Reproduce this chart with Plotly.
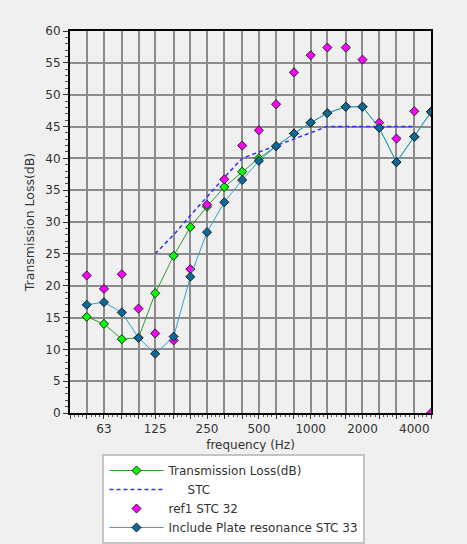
import plotly.graph_objects as go

freqs = [50, 63, 80, 100, 125, 160, 200, 250, 315, 400, 500, 630, 800,
         1000, 1250, 1600, 2000, 2500, 3150, 4000, 5000]
tl = [15.1, 14.0, 11.6, 11.8, 18.8, 24.7, 29.2, 32.4, 35.5, 37.9, 40.0, 41.9,
      43.9, 45.6, 47.1, 48.1, 48.1, 44.8, 39.4, 43.4, 47.3]
plate = [17.0, 17.4, 15.8, 11.8, 9.3, 12.0, 21.4, 28.4, 33.1, 36.6, 39.6, 41.9,
         43.9, 45.6, 47.1, 48.1, 48.1, 44.8, 39.4, 43.4, 47.3]
ref1 = [21.6, 19.5, 21.8, 16.4, 12.5, 11.4, 22.6, 32.7, 36.7, 42.0, 44.4, 48.5,
        53.5, 56.2, 57.4, 57.4, 55.5, 45.6, 43.1, 47.4, 0]
stc_freqs = [125, 160, 200, 250, 315, 400, 500, 630, 800, 1000, 1250, 1600,
             2000, 2500, 3150, 4000]
stc = [25, 28, 31, 34, 37, 40, 41, 42, 43, 44, 45, 45, 45, 45, 45, 45]

tick_labels = {63: "63", 125: "125", 250: "250", 500: "500", 1000: "1000",
               2000: "2000", 4000: "4000"}
grid_freqs = [40] + freqs

FONT = "DejaVu Sans, Verdana, sans-serif"

fig = go.Figure()
fig.add_trace(go.Scatter(
    x=freqs, y=tl, mode="lines+markers", name="Transmission Loss(dB)",
    line=dict(color="#2e9e2e", width=1),
    marker=dict(symbol="diamond", size=7, color="#00ff00",
                line=dict(color="#222", width=1))))
fig.add_trace(go.Scatter(
    x=stc_freqs, y=stc, mode="lines", name="     STC",
    line=dict(color="#3030ff", width=1.5, dash="4px,3px")))
fig.add_trace(go.Scatter(
    x=freqs, y=ref1, mode="markers", name="ref1 STC 32",
    marker=dict(symbol="diamond", size=7, color="#ff00ff",
                line=dict(color="#222", width=1))))
fig.add_trace(go.Scatter(
    x=freqs, y=plate, mode="lines+markers", name="Include Plate resonance STC 33",
    line=dict(color="#2fa0d8", width=1),
    marker=dict(symbol="diamond", size=7, color="#0b6a9a",
                line=dict(color="#222", width=1))))

minor_x = []
for i in range(len(grid_freqs) - 1):
    a, b = grid_freqs[i], grid_freqs[i + 1]
    for k in range(1, 4):
        minor_x.append(a * (b / a) ** (k / 4))

fig.update_layout(
    width=467, height=544,
    margin=dict(l=70, r=36, t=31, b=131, autoexpand=False),
    paper_bgcolor="#f0f0f0", plot_bgcolor="#f0f0f0",
    font=dict(family=FONT, size=12, color="#333"),
    showlegend=True,
    legend=dict(x=0.09, y=-0.1073, xanchor="left", yanchor="top",
                bgcolor="white", bordercolor="#c4c4c4", borderwidth=2,
                font=dict(size=12, color="#333"), itemwidth=54,
                tracegroupgap=0),
    xaxis=dict(
        type="log", range=[1.60206, 3.69897],
        tickvals=grid_freqs,
        ticktext=[tick_labels.get(f, "") for f in grid_freqs],
        showgrid=True, gridcolor="#8c8c8c", gridwidth=1.5,
        ticks="outside", ticklen=4, tickcolor="#333",
        showline=True, linecolor="black", linewidth=2, mirror=True,
        minor=dict(tickvals=minor_x, ticks="outside", ticklen=2,
                   tickcolor="#555", showgrid=False),
        title=dict(text="frequency (Hz)", standoff=5,
                   font=dict(size=12, color="#333")),
        zeroline=False, fixedrange=True, automargin=False),
    yaxis=dict(
        range=[0, 60], dtick=5, tick0=0,
        showgrid=True, gridcolor="#8c8c8c", gridwidth=1.5,
        ticks="outside", ticklen=5, tickcolor="#333",
        showline=True, linecolor="black", linewidth=2, mirror=True,
        minor=dict(dtick=1, ticks="outside", ticklen=3, tickcolor="#555",
                   showgrid=False),
        title=dict(text="Transmission Loss(dB)", standoff=8,
                   font=dict(size=12.5, color="#333")),
        zeroline=False, fixedrange=True, automargin=False),
)

fig.write_html("out.html", config={"displayModeBar": False},
               post_script="document.body.style.margin='0';"
                           "document.body.style.background='#f0f0f0';")
